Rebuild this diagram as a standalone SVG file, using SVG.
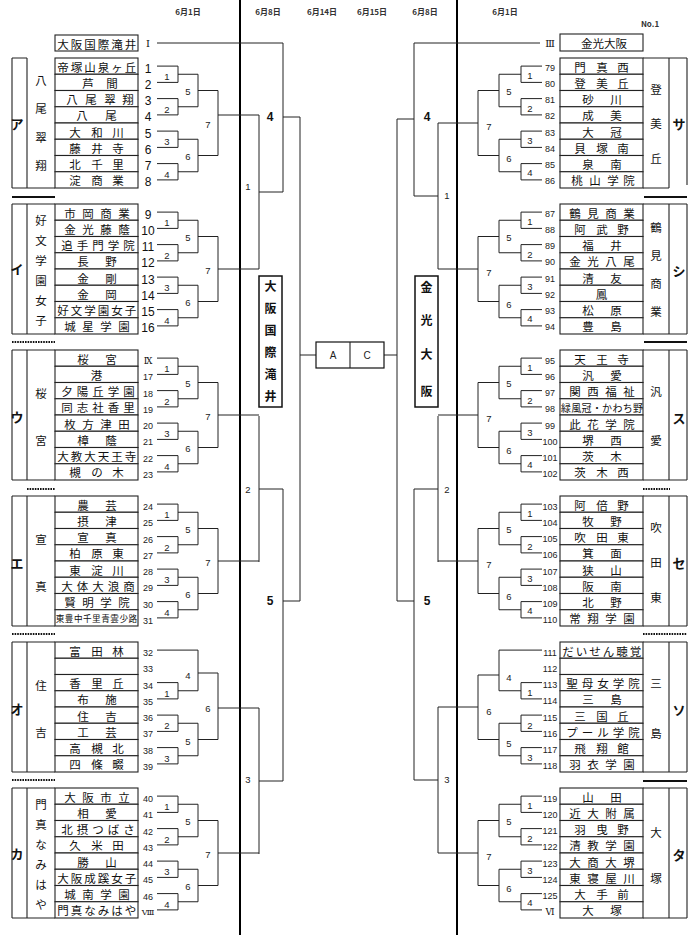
<svg xmlns="http://www.w3.org/2000/svg" width="700" height="935" viewBox="0 0 700 935">
<style>
.ln{stroke:#222;stroke-width:1;fill:none}
.tk{stroke:#000;stroke-width:2;fill:none}
.bx{fill:#fff;stroke:#222;stroke-width:1.1}
.fr{stroke:#222;stroke-width:1.1;fill:none}
.sep{stroke:#111;stroke-width:2;fill:none}
.dot{stroke:#111;stroke-width:1.8;stroke-dasharray:1.6 1;fill:none}
.nm{font-family:"Noto Sans CJK JP","Liberation Sans",sans-serif;font-size:11.5px;text-anchor:middle;dominant-baseline:central;fill:#111}
.sm{font-size:10px}
.xs{font-size:8.6px}
.nb{font-family:"Liberation Sans",sans-serif;font-size:9px;text-anchor:middle;dominant-baseline:central;fill:#222}
.nbL{font-family:"Liberation Sans",sans-serif;font-size:12px;text-anchor:middle;dominant-baseline:central;fill:#111}
.ml{font-family:"Liberation Sans",sans-serif;font-size:9.5px;text-anchor:middle;dominant-baseline:central;fill:#222}
.mb{font-family:"Liberation Sans",sans-serif;font-size:12px;font-weight:bold;text-anchor:middle;dominant-baseline:central;fill:#111}
.lt{font-family:"Noto Sans CJK JP",sans-serif;font-size:13px;font-weight:bold;text-anchor:middle;dominant-baseline:central;fill:#111}
.hd{font-family:"Noto Sans CJK JP",sans-serif;font-size:8px;font-weight:bold;text-anchor:middle;dominant-baseline:central;fill:#333}
.rn{font-family:"DejaVu Serif","Noto Sans CJK JP",serif;font-size:10px;text-anchor:middle;dominant-baseline:central;fill:#111}
.vt{font-family:"Noto Sans CJK JP",sans-serif;font-size:12px;font-weight:bold;text-anchor:middle;dominant-baseline:central;fill:#111}
</style>
<rect width="700" height="935" fill="#fff"/>

<g id="headers">
<text class="hd" x="188" y="11">6月1日</text>
<text class="hd" x="268" y="11">6月8日</text>
<text class="hd" x="322" y="11">6月14日</text>
<text class="hd" x="372" y="11">6月15日</text>
<text class="hd" x="425" y="11">6月8日</text>
<text class="hd" x="505" y="11">6月1日</text>
<text class="hd" x="650" y="23">No.1</text>
</g>

<g id="main-lines">
<path class="tk" d="M240 0V935M457 0V935"/>
</g>

<g id="connectors" class="ln">
<path transform="translate(0,58)" d="M157 8.1H178V24.4H157M157 40.6H178V56.9H157M157 73.1H178V89.4H157M157 105.6H178V121.9H157M178 16.25H198V48.75H178M178 81.25H198V113.75H178M198 32.5H218V97.5H198M218 57H259"/>
<path transform="translate(0,204)" d="M157 8.1H178V24.4H157M157 40.6H178V56.9H157M157 73.1H178V89.4H157M157 105.6H178V121.9H157M178 16.25H198V48.75H178M178 81.25H198V113.75H178M198 32.5H218V97.5H198M218 65H259"/>
<path transform="translate(0,350)" d="M157 8.1H178V24.4H157M157 40.6H178V56.9H157M157 73.1H178V89.4H157M157 105.6H178V121.9H157M178 16.25H198V48.75H178M178 81.25H198V113.75H178M198 32.5H218V97.5H198M218 65H259"/>
<path transform="translate(0,496)" d="M157 8.1H178V24.4H157M157 40.6H178V56.9H157M157 73.1H178V89.4H157M157 105.6H178V121.9H157M178 16.25H198V48.75H178M178 81.25H198V113.75H178M198 32.5H218V97.5H198M218 65H259"/>
<path transform="translate(0,642)" d="M157 8.1H198V48.75M157 40.6H178V56.9H157M178 48.75H198M198 31H218M157 73.1H178V89.4H157M157 105.6H178V121.9H157M178 81.25H198V113.75H178M198 97.5H218M218 31V97.5M218 66H259"/>
<path transform="translate(0,788)" d="M157 8.1H178V24.4H157M157 40.6H178V56.9H157M157 73.1H178V89.4H157M157 105.6H178V121.9H157M178 16.25H198V48.75H178M178 81.25H198V113.75H178M198 32.5H218V97.5H198M218 65H259"/>
<path transform="translate(0,58)" d="M542 8.1H521V24.4H542M542 40.6H521V56.9H542M542 73.1H521V89.4H542M542 105.6H521V121.9H542M521 16.25H499V48.75H521M521 81.25H499V113.75H521M499 32.5H478V97.5H499M478 65H438"/>
<path transform="translate(0,204)" d="M542 8.1H521V24.4H542M542 40.6H521V56.9H542M542 73.1H521V89.4H542M542 105.6H521V121.9H542M521 16.25H499V48.75H521M521 81.25H499V113.75H521M499 32.5H478V97.5H499M478 65H438"/>
<path transform="translate(0,350)" d="M542 8.1H521V24.4H542M542 40.6H521V56.9H542M542 73.1H521V89.4H542M542 105.6H521V121.9H542M521 16.25H499V48.75H521M521 81.25H499V113.75H521M499 32.5H478V97.5H499M478 65H438"/>
<path transform="translate(0,496)" d="M542 8.1H521V24.4H542M542 40.6H521V56.9H542M542 73.1H521V89.4H542M542 105.6H521V121.9H542M521 16.25H499V48.75H521M521 81.25H499V113.75H521M499 32.5H478V97.5H499M478 65H438"/>
<path transform="translate(0,642)" d="M542 8.1H499V48.75M542 40.6H521V56.9H542M521 48.75H499M499 33H478M542 73.1H521V89.4H542M542 105.6H521V121.9H542M521 81.25H499V113.75H521M499 97.5H478M478 33V97.5M478 65H438"/>
<path transform="translate(0,788)" d="M542 8.1H521V24.4H542M542 40.6H521V56.9H542M542 73.1H521V89.4H542M542 105.6H521V121.9H542M521 16.25H499V48.75H521M521 81.25H499V113.75H521M499 32.5H478V97.5H499M478 65H438"/>
<path d="M157 43H283V192H259M259 115V269M283 117H300V601M259 416V562M259 489H283M259 708V854M259 781H283M283 489V781M283 601H300M300 355H316"/>
<path d="M540 43H414V196H438M438 123V269M414 119H397V601M438 416V562M438 489H414M438 707V853M438 780H414M414 489V780M414 601H397M397 355H384"/>
</g>

<g id="match-labels">
<g transform="translate(0,58)"><text class="ml" x="167" y="18.5">1</text><text class="ml" x="167" y="51">2</text><text class="ml" x="167" y="83.5">3</text><text class="ml" x="167" y="116">4</text><text class="ml" x="188" y="33">5</text><text class="ml" x="188" y="98">6</text><text class="ml" x="208" y="66">7</text></g>
<g transform="translate(0,204)"><text class="ml" x="167" y="18.5">1</text><text class="ml" x="167" y="51">2</text><text class="ml" x="167" y="83.5">3</text><text class="ml" x="167" y="116">4</text><text class="ml" x="188" y="33">5</text><text class="ml" x="188" y="98">6</text><text class="ml" x="208" y="66">7</text></g>
<g transform="translate(0,350)"><text class="ml" x="167" y="18.5">1</text><text class="ml" x="167" y="51">2</text><text class="ml" x="167" y="83.5">3</text><text class="ml" x="167" y="116">4</text><text class="ml" x="188" y="33">5</text><text class="ml" x="188" y="98">6</text><text class="ml" x="208" y="66">7</text></g>
<g transform="translate(0,496)"><text class="ml" x="167" y="18.5">1</text><text class="ml" x="167" y="51">2</text><text class="ml" x="167" y="83.5">3</text><text class="ml" x="167" y="116">4</text><text class="ml" x="188" y="33">5</text><text class="ml" x="188" y="98">6</text><text class="ml" x="208" y="66">7</text></g>
<g transform="translate(0,642)"><text class="ml" x="167" y="51">1</text><text class="ml" x="167" y="83.5">2</text><text class="ml" x="167" y="116">3</text><text class="ml" x="188" y="33">4</text><text class="ml" x="188" y="99">5</text><text class="ml" x="208" y="66">6</text></g>
<g transform="translate(0,788)"><text class="ml" x="167" y="18.5">1</text><text class="ml" x="167" y="51">2</text><text class="ml" x="167" y="83.5">3</text><text class="ml" x="167" y="116">4</text><text class="ml" x="188" y="33">5</text><text class="ml" x="188" y="98">6</text><text class="ml" x="208" y="66">7</text></g>
<g transform="translate(0,58)"><text class="ml" x="530" y="17">1</text><text class="ml" x="530" y="50">2</text><text class="ml" x="530" y="82">3</text><text class="ml" x="530" y="114">4</text><text class="ml" x="509" y="33">5</text><text class="ml" x="509" y="100">6</text><text class="ml" x="489" y="68">7</text></g>
<g transform="translate(0,204)"><text class="ml" x="530" y="17">1</text><text class="ml" x="530" y="50">2</text><text class="ml" x="530" y="82">3</text><text class="ml" x="530" y="114">4</text><text class="ml" x="509" y="33">5</text><text class="ml" x="509" y="100">6</text><text class="ml" x="489" y="68">7</text></g>
<g transform="translate(0,350)"><text class="ml" x="530" y="17">1</text><text class="ml" x="530" y="50">2</text><text class="ml" x="530" y="82">3</text><text class="ml" x="530" y="114">4</text><text class="ml" x="509" y="33">5</text><text class="ml" x="509" y="100">6</text><text class="ml" x="489" y="68">7</text></g>
<g transform="translate(0,496)"><text class="ml" x="530" y="17">1</text><text class="ml" x="530" y="50">2</text><text class="ml" x="530" y="82">3</text><text class="ml" x="530" y="114">4</text><text class="ml" x="509" y="33">5</text><text class="ml" x="509" y="100">6</text><text class="ml" x="489" y="68">7</text></g>
<g transform="translate(0,642)"><text class="ml" x="530" y="50">1</text><text class="ml" x="530" y="83">2</text><text class="ml" x="530" y="115">3</text><text class="ml" x="509" y="35">4</text><text class="ml" x="509" y="101">5</text><text class="ml" x="489" y="69">6</text></g>
<g transform="translate(0,788)"><text class="ml" x="530" y="17">1</text><text class="ml" x="530" y="50">2</text><text class="ml" x="530" y="82">3</text><text class="ml" x="530" y="114">4</text><text class="ml" x="509" y="33">5</text><text class="ml" x="509" y="100">6</text><text class="ml" x="489" y="68">7</text></g>
<text class="mb" x="270" y="117">4</text>
<text class="ml" x="248" y="186">1</text>
<text class="ml" x="248" y="489">2</text>
<text class="mb" x="270" y="601">5</text>
<text class="ml" x="248" y="779">3</text>
<text class="mb" x="427" y="117">4</text>
<text class="ml" x="447" y="195">1</text>
<text class="ml" x="447" y="489">2</text>
<text class="mb" x="427" y="601">5</text>
<text class="ml" x="447" y="779">3</text>
</g>

<g id="seed-left">
<rect class="bx" x="55" y="35" width="83" height="16"/>
<text class="nm" x="63 76.5 90 103.5 117 130.5" y="43.5">大阪国際滝井</text>
<text class="rn" x="148" y="43">Ⅰ</text>
</g>
<g id="seed-right">
<rect class="bx" x="560" y="34" width="83" height="17"/>
<text class="nm" x="604" y="43">金光大阪</text>
<text class="rn" x="550" y="43">Ⅲ</text>
</g>

<g id="winner-left">
<rect x="259" y="276" width="23" height="131" fill="#fff" stroke="#111" stroke-width="1.5"/>
<text class="vt" x="270.5" y="285">大</text><text class="vt" x="270.5" y="307">阪</text><text class="vt" x="270.5" y="329">国</text><text class="vt" x="270.5" y="351">際</text><text class="vt" x="270.5" y="373">滝</text><text class="vt" x="270.5" y="395">井</text>
</g>
<g id="winner-right">
<rect x="415" y="276" width="23" height="131" fill="#fff" stroke="#111" stroke-width="1.5"/>
<text class="vt" x="426.5" y="286">金</text><text class="vt" x="426.5" y="319">光</text><text class="vt" x="426.5" y="353">大</text><text class="vt" x="426.5" y="390">阪</text>
</g>
<g id="final">
<rect x="316" y="342" width="68" height="26" fill="#fff" stroke="#111" stroke-width="1.2"/>
<path class="fr" d="M350 342V368"/>
<text class="ml" x="333" y="355" style="font-size:10px">A</text>
<text class="ml" x="367" y="355" style="font-size:10px">C</text>
</g>

<g id="separators">
<path class="sep" d="M12 197H55M644 197H687M644 342H687M643 781H687"/>
<path class="dot" d="M12 342H55M27 489H55M12 634H55M12 780H55M643 489H670M643 634H687"/>
</g>

<g id="block-a" transform="translate(0,58)">
<path class="fr" d="M12 0V130M27 0V130M12 0H27M12 130H55"/>
<text class="lt" x="17" y="65">ア</text>
<text class="nm" x="41" y="22">八</text><text class="nm" x="41" y="50">尾</text><text class="nm" x="41" y="79">翠</text><text class="nm" x="41" y="107">翔</text>
<g id="t1"><rect class="bx" x="55" y="0" width="83" height="16.25"/><text class="nm" x="63 76.5 90 103.5 117 130.5" y="8.6">帝塚山泉ヶ丘</text><text class="nbL" x="148" y="10.6">1</text></g>
<g id="t2"><rect class="bx" x="55" y="16.25" width="83" height="16.25"/><text class="nm" x="88 112" y="24.9">芦間</text><text class="nbL" x="148" y="26.9">2</text></g>
<g id="t3"><rect class="bx" x="55" y="32.5" width="83" height="16.25"/><text class="nm" x="72 91 110 128" y="41.1">八尾翠翔</text><text class="nbL" x="148" y="43.1">3</text></g>
<g id="t4"><rect class="bx" x="55" y="48.75" width="83" height="16.25"/><text class="nm" x="82 111" y="57.4">八尾</text><text class="nbL" x="148" y="59.4">4</text></g>
<g id="t5"><rect class="bx" x="55" y="65" width="83" height="16.25"/><text class="nm" x="75 97 118" y="73.6">大和川</text><text class="nbL" x="148" y="75.6">5</text></g>
<g id="t6"><rect class="bx" x="55" y="81.25" width="83" height="16.25"/><text class="nm" x="75 97 118" y="89.9">藤井寺</text><text class="nbL" x="148" y="91.9">6</text></g>
<g id="t7"><rect class="bx" x="55" y="97.5" width="83" height="16.25"/><text class="nm" x="75 97 118" y="106.1">北千里</text><text class="nbL" x="148" y="108.1">7</text></g>
<g id="t8"><rect class="bx" x="55" y="113.75" width="83" height="16.25"/><text class="nm" x="75 97 118" y="122.4">淀商業</text><text class="nbL" x="148" y="124.4">8</text></g>
</g>

<g id="block-i" transform="translate(0,204)">
<path class="fr" d="M12 0V130M27 0V130M12 0H55M12 130H55"/>
<text class="lt" x="17" y="64">イ</text>
<text class="nm" x="41" y="16">好</text><text class="nm" x="41" y="36">文</text><text class="nm" x="41" y="56">学</text><text class="nm" x="41" y="76">園</text><text class="nm" x="41" y="96">女</text><text class="nm" x="41" y="116">子</text>
<g id="t9"><rect class="bx" x="55" y="0" width="83" height="16.25"/><text class="nm" x="70 88 106 124" y="8.6">市岡商業</text><text class="nbL" x="148" y="10.6">9</text></g>
<g id="t10"><rect class="bx" x="55" y="16.25" width="83" height="16.25"/><text class="nm" x="70 88 106 124" y="24.9">金光藤蔭</text><text class="nbL" x="148" y="26.9">10</text></g>
<g id="t11"><rect class="bx" x="55" y="32.5" width="83" height="16.25"/><text class="nm" x="67 82.5 98 113.5 129" y="41.1">追手門学院</text><text class="nbL" x="148" y="43.1">11</text></g>
<g id="t12"><rect class="bx" x="55" y="48.75" width="83" height="16.25"/><text class="nm" x="83 111" y="57.4">長野</text><text class="nbL" x="148" y="59.4">12</text></g>
<g id="t13"><rect class="bx" x="55" y="65" width="83" height="16.25"/><text class="nm" x="83 111" y="73.6">金剛</text><text class="nbL" x="148" y="75.6">13</text></g>
<g id="t14"><rect class="bx" x="55" y="81.25" width="83" height="16.25"/><text class="nm" x="83 111" y="89.9">金岡</text><text class="nbL" x="148" y="91.9">14</text></g>
<g id="t15"><rect class="bx" x="55" y="97.5" width="83" height="16.25"/><text class="nm" x="63 76.5 90 103.5 117 130.5" y="106.1">好文学園女子</text><text class="nbL" x="148" y="108.1">15</text></g>
<g id="t16"><rect class="bx" x="55" y="113.75" width="83" height="16.25"/><text class="nm" x="70 88 106 124" y="122.4">城星学園</text><text class="nbL" x="148" y="124.4">16</text></g>
</g>

<g id="block-u" transform="translate(0,350)">
<path class="fr" d="M12 0V130M27 0V130M12 0H55M12 130H55"/>
<text class="lt" x="17" y="66">ウ</text>
<text class="nm" x="41" y="43">桜</text><text class="nm" x="41" y="90">宮</text>
<g id="t-ix"><rect class="bx" x="55" y="0" width="83" height="16.25"/><text class="nm" x="83 111" y="8.6">桜宮</text><text class="rn" x="148" y="11" style="font-size:9px">Ⅸ</text></g>
<g id="t17"><rect class="bx" x="55" y="16.25" width="83" height="16.25"/><text class="nm" x="96.5" y="24.9">港</text><text class="nb" x="148" y="27.4">17</text></g>
<g id="t18"><rect class="bx" x="55" y="32.5" width="83" height="16.25"/><text class="nm" x="67 82.5 98 113.5 129" y="41.1">夕陽丘学園</text><text class="nb" x="148" y="43.6">18</text></g>
<g id="t19"><rect class="bx" x="55" y="48.75" width="83" height="16.25"/><text class="nm" x="67 82.5 98 113.5 129" y="57.4">同志社香里</text><text class="nb" x="148" y="59.9">19</text></g>
<g id="t20"><rect class="bx" x="55" y="65" width="83" height="16.25"/><text class="nm" x="70 88 106 124" y="73.6">枚方津田</text><text class="nb" x="148" y="76.1">20</text></g>
<g id="t21"><rect class="bx" x="55" y="81.25" width="83" height="16.25"/><text class="nm" x="83 111" y="89.9">樟蔭</text><text class="nb" x="148" y="92.4">21</text></g>
<g id="t22"><rect class="bx" x="55" y="97.5" width="83" height="16.25"/><text class="nm" x="63 76.5 90 103.5 117 130.5" y="106.1">大教大天王寺</text><text class="nb" x="148" y="108.6">22</text></g>
<g id="t23"><rect class="bx" x="55" y="113.75" width="83" height="16.25"/><text class="nm" x="75 97 118" y="122.4">槻の木</text><text class="nb" x="148" y="124.9">23</text></g>
</g>

<g id="block-e" transform="translate(0,496)">
<path class="fr" d="M12 0V130M27 0V130M12 0H55M12 130H55"/>
<text class="lt" x="17" y="66">エ</text>
<text class="nm" x="41" y="43">宣</text><text class="nm" x="41" y="90">真</text>
<g id="t24"><rect class="bx" x="55" y="0" width="83" height="16.25"/><text class="nm" x="83 111" y="8.6">農芸</text><text class="nb" x="148" y="11.1">24</text></g>
<g id="t25"><rect class="bx" x="55" y="16.25" width="83" height="16.25"/><text class="nm" x="83 111" y="24.9">摂津</text><text class="nb" x="148" y="27.4">25</text></g>
<g id="t26"><rect class="bx" x="55" y="32.5" width="83" height="16.25"/><text class="nm" x="83 111" y="41.1">宣真</text><text class="nb" x="148" y="43.6">26</text></g>
<g id="t27"><rect class="bx" x="55" y="48.75" width="83" height="16.25"/><text class="nm" x="75 97 118" y="57.4">柏原東</text><text class="nb" x="148" y="59.9">27</text></g>
<g id="t28"><rect class="bx" x="55" y="65" width="83" height="16.25"/><text class="nm" x="75 97 118" y="73.6">東淀川</text><text class="nb" x="148" y="76.1">28</text></g>
<g id="t29"><rect class="bx" x="55" y="81.25" width="83" height="16.25"/><text class="nm" x="67 82.5 98 113.5 129" y="89.9">大体大浪商</text><text class="nb" x="148" y="92.4">29</text></g>
<g id="t30"><rect class="bx" x="55" y="97.5" width="83" height="16.25"/><text class="nm" x="70 88 106 124" y="106.1">賢明学院</text><text class="nb" x="148" y="108.6">30</text></g>
<g id="t31"><rect class="bx" x="55" y="113.75" width="83" height="16.25"/><text class="nm xs" x="60 69.1 78.2 87.3 96.4 105.5 114.6 123.7 132.8" y="122.4">東豊中千里青雲少路</text><text class="nb" x="148" y="124.9">31</text></g>
</g>

<g id="block-o" transform="translate(0,642)">
<path class="fr" d="M12 0V130M27 0V130M12 0H55M12 130H55"/>
<text class="lt" x="17" y="66">オ</text>
<text class="nm" x="41" y="43">住</text><text class="nm" x="41" y="90">吉</text>
<g id="t32"><rect class="bx" x="55" y="0" width="83" height="16.25"/><text class="nm" x="75 97 118" y="8.6">富田林</text><text class="nb" x="148" y="11.1">32</text></g>
<g id="t33"><rect class="bx" x="55" y="16.25" width="83" height="16.25"/><text class="nb" x="148" y="27.4">33</text></g>
<g id="t34"><rect class="bx" x="55" y="32.5" width="83" height="16.25"/><text class="nm" x="75 97 118" y="41.1">香里丘</text><text class="nb" x="148" y="43.6">34</text></g>
<g id="t35"><rect class="bx" x="55" y="48.75" width="83" height="16.25"/><text class="nm" x="83 111" y="57.4">布施</text><text class="nb" x="148" y="59.9">35</text></g>
<g id="t36"><rect class="bx" x="55" y="65" width="83" height="16.25"/><text class="nm" x="83 111" y="73.6">住吉</text><text class="nb" x="148" y="76.1">36</text></g>
<g id="t37"><rect class="bx" x="55" y="81.25" width="83" height="16.25"/><text class="nm" x="83 111" y="89.9">工芸</text><text class="nb" x="148" y="92.4">37</text></g>
<g id="t38"><rect class="bx" x="55" y="97.5" width="83" height="16.25"/><text class="nm" x="75 97 118" y="106.1">高槻北</text><text class="nb" x="148" y="108.6">38</text></g>
<g id="t39"><rect class="bx" x="55" y="113.75" width="83" height="16.25"/><text class="nm" x="75 97 118" y="122.4">四條畷</text><text class="nb" x="148" y="124.9">39</text></g>
</g>

<g id="block-ka" transform="translate(0,788)">
<path class="fr" d="M12 0V130M27 0V130M12 0H55M12 130H55"/>
<text class="lt" x="17" y="65">カ</text>
<text class="nm" x="41" y="16">門</text><text class="nm" x="41" y="36">真</text><text class="nm" x="41" y="56">な</text><text class="nm" x="41" y="76">み</text><text class="nm" x="41" y="96">は</text><text class="nm" x="41" y="116">や</text>
<g id="t40"><rect class="bx" x="55" y="0" width="83" height="16.25"/><text class="nm" x="70 88 106 124" y="8.6">大阪市立</text><text class="nb" x="148" y="11.1">40</text></g>
<g id="t41"><rect class="bx" x="55" y="16.25" width="83" height="16.25"/><text class="nm" x="83 111" y="24.9">相愛</text><text class="nb" x="148" y="27.4">41</text></g>
<g id="t42"><rect class="bx" x="55" y="32.5" width="83" height="16.25"/><text class="nm" x="67 82.5 98 113.5 129" y="41.1">北摂つばさ</text><text class="nb" x="148" y="43.6">42</text></g>
<g id="t43"><rect class="bx" x="55" y="48.75" width="83" height="16.25"/><text class="nm" x="75 97 118" y="57.4">久米田</text><text class="nb" x="148" y="59.9">43</text></g>
<g id="t44"><rect class="bx" x="55" y="65" width="83" height="16.25"/><text class="nm" x="83 111" y="73.6">勝山</text><text class="nb" x="148" y="76.1">44</text></g>
<g id="t45"><rect class="bx" x="55" y="81.25" width="83" height="16.25"/><text class="nm" x="63 76.5 90 103.5 117 130.5" y="89.9">大阪成蹊女子</text><text class="nb" x="148" y="92.4">45</text></g>
<g id="t46"><rect class="bx" x="55" y="97.5" width="83" height="16.25"/><text class="nm" x="70 88 106 124" y="106.1">城南学園</text><text class="nb" x="148" y="108.6">46</text></g>
<g id="t-viii"><rect class="bx" x="55" y="113.75" width="83" height="16.25"/><text class="nm" x="63 76.5 90 103.5 117 130.5" y="122.4">門真なみはや</text><text class="rn" x="148" y="124.9" style="font-size:8px">Ⅷ</text></g>
</g>

<g id="block-sa" transform="translate(0,58)">
<path class="fr" d="M643 0H687M669 0V130M687 0V127M643 130H669"/>
<text class="lt" x="679" y="65">サ</text>
<text class="nm" x="656" y="31">登</text><text class="nm" x="656" y="65">美</text><text class="nm" x="656" y="100">丘</text>
<g id="t79"><rect class="bx" x="560" y="0" width="83" height="16.25"/><text class="nm" x="580 602 623" y="8.6">門真西</text><text class="nb" x="550" y="9.6">79</text></g>
<g id="t80"><rect class="bx" x="560" y="16.25" width="83" height="16.25"/><text class="nm" x="580 602 623" y="24.9">登美丘</text><text class="nb" x="550" y="25.9">80</text></g>
<g id="t81"><rect class="bx" x="560" y="32.5" width="83" height="16.25"/><text class="nm" x="588 616" y="41.1">砂川</text><text class="nb" x="550" y="42.1">81</text></g>
<g id="t82"><rect class="bx" x="560" y="48.75" width="83" height="16.25"/><text class="nm" x="588 616" y="57.4">成美</text><text class="nb" x="550" y="58.4">82</text></g>
<g id="t83"><rect class="bx" x="560" y="65" width="83" height="16.25"/><text class="nm" x="588 616" y="73.6">大冠</text><text class="nb" x="550" y="74.6">83</text></g>
<g id="t84"><rect class="bx" x="560" y="81.25" width="83" height="16.25"/><text class="nm" x="580 602 623" y="89.9">貝塚南</text><text class="nb" x="550" y="90.9">84</text></g>
<g id="t85"><rect class="bx" x="560" y="97.5" width="83" height="16.25"/><text class="nm" x="588 616" y="106.1">泉南</text><text class="nb" x="550" y="107.1">85</text></g>
<g id="t86"><rect class="bx" x="560" y="113.75" width="83" height="16.25"/><text class="nm" x="577 595 613 629" y="122.4">桃山学院</text><text class="nb" x="550" y="123.4">86</text></g>
</g>

<g id="block-shi" transform="translate(0,204)">
<path class="fr" d="M643 0H687M669 0V130M687 0V130M643 130H687"/>
<text class="lt" x="679" y="66">シ</text>
<text class="nm" x="656" y="23">鶴</text><text class="nm" x="656" y="51">見</text><text class="nm" x="656" y="79">商</text><text class="nm" x="656" y="107">業</text>
<g id="t87"><rect class="bx" x="560" y="0" width="83" height="16.25"/><text class="nm" x="575 593 611 629" y="8.6">鶴見商業</text><text class="nb" x="550" y="9.6">87</text></g>
<g id="t88"><rect class="bx" x="560" y="16.25" width="83" height="16.25"/><text class="nm" x="580 602 623" y="24.9">阿武野</text><text class="nb" x="550" y="25.9">88</text></g>
<g id="t89"><rect class="bx" x="560" y="32.5" width="83" height="16.25"/><text class="nm" x="588 616" y="41.1">福井</text><text class="nb" x="550" y="42.1">89</text></g>
<g id="t90"><rect class="bx" x="560" y="48.75" width="83" height="16.25"/><text class="nm" x="575 593 611 629" y="57.4">金光八尾</text><text class="nb" x="550" y="58.4">90</text></g>
<g id="t91"><rect class="bx" x="560" y="65" width="83" height="16.25"/><text class="nm" x="588 616" y="73.6">清友</text><text class="nb" x="550" y="74.6">91</text></g>
<g id="t92"><rect class="bx" x="560" y="81.25" width="83" height="16.25"/><text class="nm" x="601.5" y="89.9">鳳</text><text class="nb" x="550" y="90.9">92</text></g>
<g id="t93"><rect class="bx" x="560" y="97.5" width="83" height="16.25"/><text class="nm" x="588 616" y="106.1">松原</text><text class="nb" x="550" y="107.1">93</text></g>
<g id="t94"><rect class="bx" x="560" y="113.75" width="83" height="16.25"/><text class="nm" x="588 616" y="122.4">豊島</text><text class="nb" x="550" y="123.4">94</text></g>
</g>

<g id="block-su" transform="translate(0,350)">
<path class="fr" d="M643 0H687M669 0V130M687 0V130M643 130H687"/>
<text class="lt" x="679" y="67">ス</text>
<text class="nm" x="656" y="41">汎</text><text class="nm" x="656" y="90">愛</text>
<g id="t95"><rect class="bx" x="560" y="0" width="83" height="16.25"/><text class="nm" x="580 602 623" y="8.6">天王寺</text><text class="nb" x="550" y="10.6">95</text></g>
<g id="t96"><rect class="bx" x="560" y="16.25" width="83" height="16.25"/><text class="nm" x="588 616" y="24.9">汎愛</text><text class="nb" x="550" y="26.9">96</text></g>
<g id="t97"><rect class="bx" x="560" y="32.5" width="83" height="16.25"/><text class="nm" x="575 593 611 629" y="41.1">関西福祉</text><text class="nb" x="550" y="43.1">97</text></g>
<g id="t98"><rect class="bx" x="560" y="48.75" width="83" height="16.25"/><text class="nm sm" x="566 576.3 586.6 596.9 607.1 617.4 627.7 638" y="57.4">緑風冠・かわち野</text><text class="nb" x="550" y="59.4">98</text></g>
<g id="t99"><rect class="bx" x="560" y="65" width="83" height="16.25"/><text class="nm" x="575 593 611 629" y="73.6">此花学院</text><text class="nb" x="550" y="75.6">99</text></g>
<g id="t100"><rect class="bx" x="560" y="81.25" width="83" height="16.25"/><text class="nm" x="588 616" y="89.9">堺西</text><text class="nb" x="550" y="91.9">100</text></g>
<g id="t101"><rect class="bx" x="560" y="97.5" width="83" height="16.25"/><text class="nm" x="588 616" y="106.1">茨木</text><text class="nb" x="550" y="108.1">101</text></g>
<g id="t102"><rect class="bx" x="560" y="113.75" width="83" height="16.25"/><text class="nm" x="580 602 623" y="122.4">茨木西</text><text class="nb" x="550" y="124.4">102</text></g>
</g>

<g id="block-se" transform="translate(0,496)">
<path class="fr" d="M643 0H687M669 0V130M687 0V130M643 130H687"/>
<text class="lt" x="679" y="66">セ</text>
<text class="nm" x="656" y="31">吹</text><text class="nm" x="656" y="66">田</text><text class="nm" x="656" y="101">東</text>
<g id="t103"><rect class="bx" x="560" y="0" width="83" height="16.25"/><text class="nm" x="580 602 623" y="8.6">阿倍野</text><text class="nb" x="550" y="10.6">103</text></g>
<g id="t104"><rect class="bx" x="560" y="16.25" width="83" height="16.25"/><text class="nm" x="588 616" y="24.9">牧野</text><text class="nb" x="550" y="26.9">104</text></g>
<g id="t105"><rect class="bx" x="560" y="32.5" width="83" height="16.25"/><text class="nm" x="580 602 623" y="41.1">吹田東</text><text class="nb" x="550" y="43.1">105</text></g>
<g id="t106"><rect class="bx" x="560" y="48.75" width="83" height="16.25"/><text class="nm" x="588 616" y="57.4">箕面</text><text class="nb" x="550" y="59.4">106</text></g>
<g id="t107"><rect class="bx" x="560" y="65" width="83" height="16.25"/><text class="nm" x="588 616" y="73.6">狭山</text><text class="nb" x="550" y="75.6">107</text></g>
<g id="t108"><rect class="bx" x="560" y="81.25" width="83" height="16.25"/><text class="nm" x="588 616" y="89.9">阪南</text><text class="nb" x="550" y="91.9">108</text></g>
<g id="t109"><rect class="bx" x="560" y="97.5" width="83" height="16.25"/><text class="nm" x="588 616" y="106.1">北野</text><text class="nb" x="550" y="108.1">109</text></g>
<g id="t110"><rect class="bx" x="560" y="113.75" width="83" height="16.25"/><text class="nm" x="575 593 611 629" y="122.4">常翔学園</text><text class="nb" x="550" y="124.4">110</text></g>
</g>

<g id="block-so" transform="translate(0,642)">
<path class="fr" d="M643 0H687M669 0V130M687 0V130M643 130H687"/>
<text class="lt" x="679" y="67">ソ</text>
<text class="nm" x="656" y="41">三</text><text class="nm" x="656" y="91">島</text>
<g id="t111"><rect class="bx" x="560" y="0" width="83" height="16.25"/><text class="nm" x="568 581.5 595 608.5 622 635.5" y="8.6">だいせん聴覚</text><text class="nb" x="550" y="10.6">111</text></g>
<g id="t112"><rect class="bx" x="560" y="16.25" width="83" height="16.25"/><text class="nb" x="550" y="26.9">112</text></g>
<g id="t113"><rect class="bx" x="560" y="32.5" width="83" height="16.25"/><text class="nm" x="572 587.5 603 618.5 634" y="41.1">聖母女学院</text><text class="nb" x="550" y="43.1">113</text></g>
<g id="t114"><rect class="bx" x="560" y="48.75" width="83" height="16.25"/><text class="nm" x="588 616" y="57.4">三島</text><text class="nb" x="550" y="59.4">114</text></g>
<g id="t115"><rect class="bx" x="560" y="65" width="83" height="16.25"/><text class="nm" x="580 602 623" y="73.6">三国丘</text><text class="nb" x="550" y="75.6">115</text></g>
<g id="t116"><rect class="bx" x="560" y="81.25" width="83" height="16.25"/><text class="nm" x="572 587.5 603 618.5 634" y="89.9">プール学院</text><text class="nb" x="550" y="91.9">116</text></g>
<g id="t117"><rect class="bx" x="560" y="97.5" width="83" height="16.25"/><text class="nm" x="580 602 623" y="106.1">飛翔館</text><text class="nb" x="550" y="108.1">117</text></g>
<g id="t118"><rect class="bx" x="560" y="113.75" width="83" height="16.25"/><text class="nm" x="575 593 611 629" y="122.4">羽衣学園</text><text class="nb" x="550" y="124.4">118</text></g>
</g>

<g id="block-ta" transform="translate(0,788)">
<path class="fr" d="M643 0H687M669 0V130M687 0V130M643 130H687"/>
<text class="lt" x="679" y="66">タ</text>
<text class="nm" x="656" y="44">大</text><text class="nm" x="656" y="90">塚</text>
<g id="t119"><rect class="bx" x="560" y="0" width="83" height="16.25"/><text class="nm" x="588 616" y="8.6">山田</text><text class="nb" x="550" y="10.6">119</text></g>
<g id="t120"><rect class="bx" x="560" y="16.25" width="83" height="16.25"/><text class="nm" x="575 593 611 629" y="24.9">近大附属</text><text class="nb" x="550" y="26.9">120</text></g>
<g id="t121"><rect class="bx" x="560" y="32.5" width="83" height="16.25"/><text class="nm" x="580 602 623" y="41.1">羽曳野</text><text class="nb" x="550" y="43.1">121</text></g>
<g id="t122"><rect class="bx" x="560" y="48.75" width="83" height="16.25"/><text class="nm" x="575 593 611 629" y="57.4">清教学園</text><text class="nb" x="550" y="59.4">122</text></g>
<g id="t123"><rect class="bx" x="560" y="65" width="83" height="16.25"/><text class="nm" x="575 593 611 629" y="73.6">大商大堺</text><text class="nb" x="550" y="75.6">123</text></g>
<g id="t124"><rect class="bx" x="560" y="81.25" width="83" height="16.25"/><text class="nm" x="575 593 611 629" y="89.9">東寝屋川</text><text class="nb" x="550" y="91.9">124</text></g>
<g id="t125"><rect class="bx" x="560" y="97.5" width="83" height="16.25"/><text class="nm" x="580 602 623" y="106.1">大手前</text><text class="nb" x="550" y="108.1">125</text></g>
<g id="t-vi"><rect class="bx" x="560" y="113.75" width="83" height="16.25"/><text class="nm" x="588 616" y="122.4">大塚</text><text class="rn" x="550" y="124.4" style="font-size:9px">Ⅵ</text></g>
</g>
</svg>
